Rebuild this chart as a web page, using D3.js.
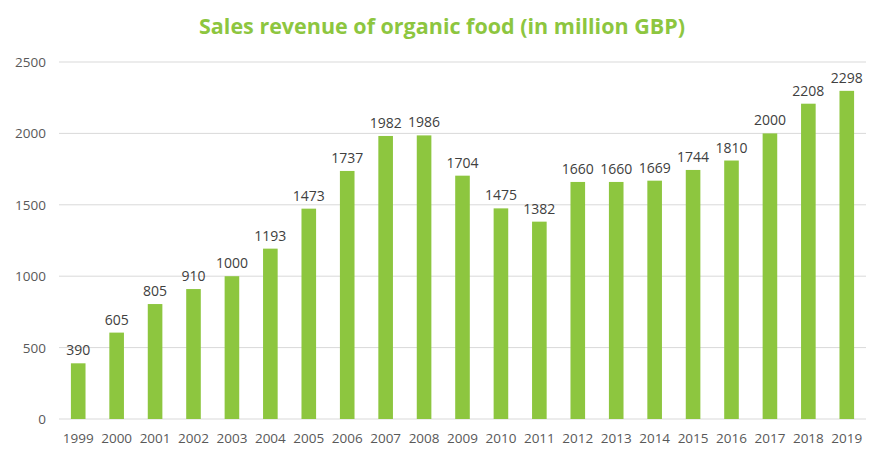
<!DOCTYPE html>
<html><head><meta charset="utf-8">
<script src="https://cdn.jsdelivr.net/npm/d3@7"></script>
<style>body{margin:0;background:#fff}svg{font-family:"Open Sans","Liberation Sans",sans-serif}</style>
</head><body><svg id="c" width="882" height="458"></svg>
<script>
const years=["1999","2000","2001","2002","2003","2004","2005","2006","2007","2008","2009","2010","2011","2012","2013","2014","2015","2016","2017","2018","2019"];
const revenue=[390,605,805,910,1000,1193,1473,1737,1982,1986,1704,1475,1382,1660,1660,1669,1744,1810,2000,2208,2298];
const yTicks=[0,500,1000,1500,2000,2500];
const svg=d3.select("#c");
const x=d3.scaleBand().domain(years).range([59,866]).paddingInner(0.62).paddingOuter(0.31);
const y=d3.scaleLinear().domain([0,2500]).range([419,62]);
svg.append("g").selectAll("line").data(yTicks).join("line")
 .attr("x1",59).attr("x2",866).attr("y1",d=>y(d)).attr("y2",d=>y(d))
 .attr("stroke","#d9d9d9").attr("stroke-width",1);
svg.append("g").selectAll("text").data(yTicks).join("text")
 .attr("x",46).attr("y",d=>y(d)+5).attr("text-anchor","end")
 .attr("font-size",13.5).attr("fill","#595959").text(d=>d);
svg.append("g").selectAll("rect").data(years).join("rect")
 .attr("x",d=>x(d)).attr("width",x.bandwidth())
 .attr("y",(d,i)=>y(revenue[i])).attr("height",(d,i)=>y(0)-y(revenue[i]))
 .attr("fill","#8dc63f");
svg.append("g").selectAll("text").data(years).join("text")
 .attr("x",d=>x(d)+x.bandwidth()/2).attr("y",(d,i)=>y(revenue[i])-8)
 .attr("text-anchor","middle").attr("font-size",14).attr("fill","#404040")
 .text((d,i)=>revenue[i]);
svg.append("g").selectAll("text").data(years).join("text")
 .attr("x",d=>x(d)+x.bandwidth()/2).attr("y",443)
 .attr("text-anchor","middle").attr("font-size",13.5).attr("fill","#595959").text(d=>d);
svg.append("text").attr("x",442).attr("y",34).attr("text-anchor","middle")
 .attr("font-size",21.5).attr("font-weight","bold").attr("fill","#8dc63f")
 .text("Sales revenue of organic food (in million GBP)");
</script></body></html>
